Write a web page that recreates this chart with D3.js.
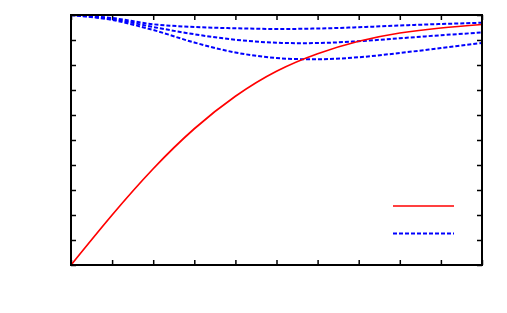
<!DOCTYPE html>
<html>
<head>
<meta charset="utf-8">
<script src="https://cdn.jsdelivr.net/npm/d3@7"></script>
<style>
  html, body { margin: 0; padding: 0; background: #fff; }
  svg { display: block; }
</style>
</head>
<body>
<svg id="chart" width="507" height="313"></svg>
<script>
// ---- data ----
const xValues = [0, 1, 2, 3, 4, 5, 6, 7, 8, 9, 10];
const redSeries = [0, 0.200, 0.385, 0.545, 0.675, 0.775, 0.845, 0.895, 0.928, 0.948, 0.962];
const blueSeriesA = [1.0, 0.988, 0.963, 0.952, 0.947, 0.944, 0.946, 0.951, 0.958, 0.964, 0.969];
const blueSeriesB = [1.0, 0.984, 0.952, 0.923, 0.901, 0.889, 0.888, 0.895, 0.907, 0.919, 0.930];
const blueSeriesC = [1.0, 0.980, 0.940, 0.890, 0.850, 0.828, 0.823, 0.831, 0.848, 0.868, 0.888];
const xTicks = [0, 1, 2, 3, 4, 5, 6, 7, 8, 9, 10];
const yTicks = [0, 0.1, 0.2, 0.3, 0.4, 0.5, 0.6, 0.7, 0.8, 0.9, 1.0];

const svg = d3.select("#chart");
const margin = { left: 71, right: 25, top: 15, bottom: 48 };
const W = 507, H = 313;
const x = d3.scaleLinear().domain([0, 10]).range([margin.left, W - margin.right]);
const y = d3.scaleLinear().domain([0, 1]).range([H - margin.bottom, margin.top]);

svg.append("defs").append("clipPath").attr("id", "clip")
  .append("rect")
  .attr("x", x(0)).attr("y", y(1))
  .attr("width", x(10) - x(0)).attr("height", y(0) - y(1));

const tickLen = 5;
function styleAxis(g) {
  g.select(".domain").remove();
  g.selectAll(".tick line").attr("stroke", "#000").attr("stroke-width", 1.5);
  g.selectAll(".tick text").remove();
}
svg.append("g").attr("transform", `translate(0,${y(0)})`)
  .call(d3.axisBottom(x).tickValues(xTicks).tickSize(-tickLen).tickFormat(""))
  .call(styleAxis);
svg.append("g").attr("transform", `translate(0,${y(1)})`)
  .call(d3.axisTop(x).tickValues(xTicks).tickSize(-tickLen).tickFormat(""))
  .call(styleAxis);
svg.append("g").attr("transform", `translate(${x(0)},0)`)
  .call(d3.axisLeft(y).tickValues(yTicks).tickSize(-tickLen).tickFormat(""))
  .call(styleAxis);
svg.append("g").attr("transform", `translate(${x(10)},0)`)
  .call(d3.axisRight(y).tickValues(yTicks).tickSize(-tickLen).tickFormat(""))
  .call(styleAxis);

const lineBlue = d3.line()
  .x((d, i) => x(xValues[i]))
  .y(d => y(d))
  .curve(d3.curveCatmullRom);
const lineRed = d3.line()
  .x((d, i) => x(xValues[i]))
  .y(d => y(d))
  .curve(d3.curveNatural);

const plot = svg.append("g").attr("clip-path", "url(#clip)");
[blueSeriesA, blueSeriesB, blueSeriesC].forEach(s => {
  plot.append("path").datum(s)
    .attr("fill", "none").attr("stroke", "#0000ff")
    .attr("stroke-width", 2).attr("stroke-dasharray", "4,2")
    .attr("d", lineBlue);
});
plot.append("path").datum(redSeries)
  .attr("fill", "none").attr("stroke", "#ff0000")
  .attr("stroke-width", 1.7)
  .attr("d", lineRed);

// frame
svg.append("rect")
  .attr("x", x(0)).attr("y", y(1))
  .attr("width", x(10) - x(0)).attr("height", y(0) - y(1))
  .attr("fill", "none").attr("stroke", "#000").attr("stroke-width", 2);

// legend (sample lines only)
const legend = [
  { color: "#ff0000", dash: null, width: 1.7 },
  { color: "#0000ff", dash: "4,2", width: 2 }
];
legend.forEach((d, i) => {
  svg.append("line")
    .attr("x1", 393).attr("x2", 454)
    .attr("y1", 206 + i * 27.5).attr("y2", 206 + i * 27.5)
    .attr("stroke", d.color).attr("stroke-width", d.width)
    .attr("stroke-dasharray", d.dash);
});
</script>
</body>
</html>
